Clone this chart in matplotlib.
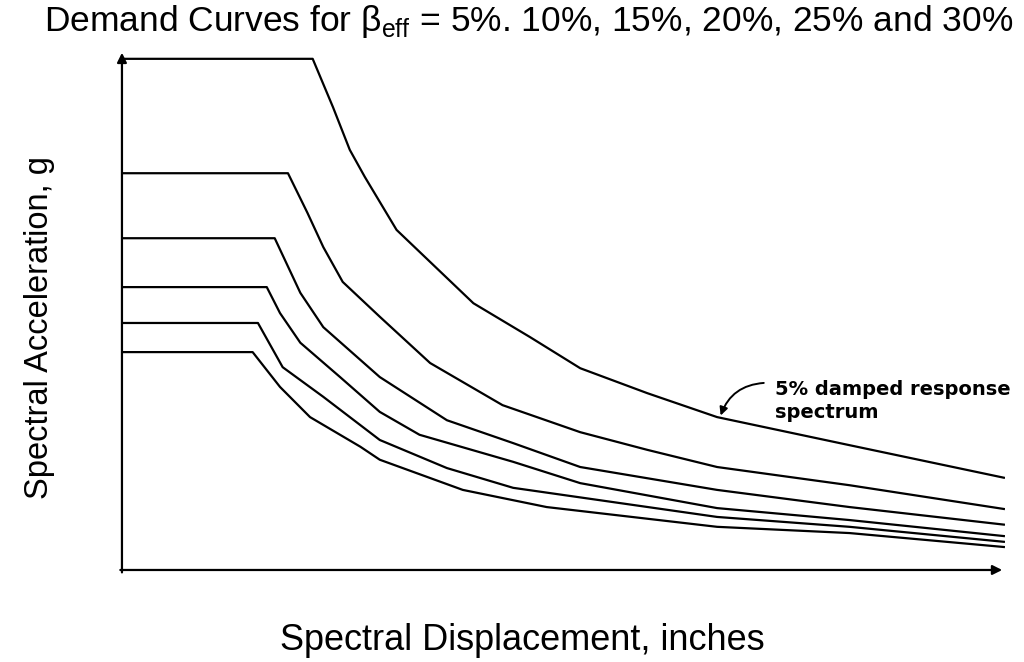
import matplotlib
matplotlib.use("Agg")
import matplotlib.pyplot as plt

plt.rcParams["mathtext.fontset"] = "custom"
plt.rcParams["mathtext.rm"] = "Liberation Sans"

# spectral displacement (arbitrary inch scale) and acceleration (g) for each damping level
disp_5 = [0, 2.16, 2.39, 2.58, 2.75, 3.11, 3.98, 4.62, 5.19, 5.95, 6.74, 8.24, 10.0]
acc_5 = [0.983, 0.983, 0.890, 0.808, 0.756, 0.654, 0.513, 0.448, 0.388, 0.340, 0.294, 0.240, 0.177]

disp_10 = [0, 1.88, 2.10, 2.28, 2.50, 2.92, 3.49, 4.31, 5.19, 5.95, 6.74, 8.24, 10.0]
acc_10 = [0.763, 0.763, 0.687, 0.621, 0.554, 0.487, 0.398, 0.317, 0.265, 0.231, 0.198, 0.163, 0.117]

disp_15 = [0, 1.73, 2.02, 2.28, 2.66, 2.92, 3.68, 4.43, 5.19, 6.74, 8.24, 10.0]
acc_15 = [0.638, 0.638, 0.533, 0.467, 0.410, 0.371, 0.288, 0.244, 0.198, 0.154, 0.121, 0.087]

disp_20 = [0, 1.64, 1.79, 2.02, 2.47, 2.92, 3.37, 4.43, 5.19, 6.74, 8.24, 10.0]
acc_20 = [0.544, 0.544, 0.494, 0.437, 0.371, 0.304, 0.260, 0.208, 0.167, 0.119, 0.096, 0.065]

disp_25 = [0, 1.54, 1.82, 2.28, 2.92, 3.68, 4.43, 6.74, 8.24, 10.0]
acc_25 = [0.475, 0.475, 0.390, 0.333, 0.250, 0.196, 0.158, 0.102, 0.083, 0.054]

disp_30 = [0, 1.48, 1.79, 2.13, 2.70, 2.92, 3.86, 4.81, 6.74, 8.24, 10.0]
acc_30 = [0.419, 0.419, 0.352, 0.294, 0.237, 0.212, 0.154, 0.121, 0.083, 0.071, 0.044]

curves = [(disp_5, acc_5), (disp_10, acc_10), (disp_15, acc_15),
          (disp_20, acc_20), (disp_25, acc_25), (disp_30, acc_30)]

fig = plt.figure(figsize=(10.24, 6.62), dpi=100)
ax = fig.add_axes([0.1191, 0.139, 0.8623, 0.7855])

for d, a in curves:
    ax.plot(d, a, color="black", lw=1.6, solid_capstyle="butt")

ax.set_xlim(0, 10)
ax.set_ylim(0, 1.0)
for s in ax.spines.values():
    s.set_visible(False)
ax.set_xticks([])
ax.set_yticks([])

# axes drawn as arrows
arrow = dict(arrowstyle="-|>", color="black", lw=1.6, mutation_scale=14)
ax.annotate("", xy=(0, 1.0), xytext=(0, -0.01), xycoords="axes fraction",
            arrowprops=arrow, annotation_clip=False)
ax.annotate("", xy=(1.0, 0), xytext=(-0.005, 0), xycoords="axes fraction",
            arrowprops=arrow, annotation_clip=False)

# label on the 5% curve
ax.annotate("", xy=(6.77, 0.292), xytext=(7.30, 0.360),
            arrowprops=dict(arrowstyle="-|>", color="black", lw=1.4,
                            mutation_scale=12,
                            connectionstyle="arc3,rad=0.35"))
ax.text(7.40, 0.325, "5% damped response\nspectrum", fontsize=14,
        fontweight="bold", family="DejaVu Sans", va="center", ha="left",
        linespacing=1.3)

fig.text(0.516, 0.967, r"Demand Curves for β$_{\mathrm{eff}}$ = 5%. 10%, 15%, 20%, 25% and 30%",
         ha="center", va="center", fontsize=25.5, family="Liberation Sans")
fig.text(0.51, 0.033, "Spectral Displacement, inches", ha="center", va="center",
         fontsize=26, family="Liberation Sans")
fig.text(0.039, 0.506, "Spectral Acceleration, g", ha="center", va="center",
         rotation=90, fontsize=23.5, family="Liberation Sans")

fig.savefig("out.png", dpi=100)
